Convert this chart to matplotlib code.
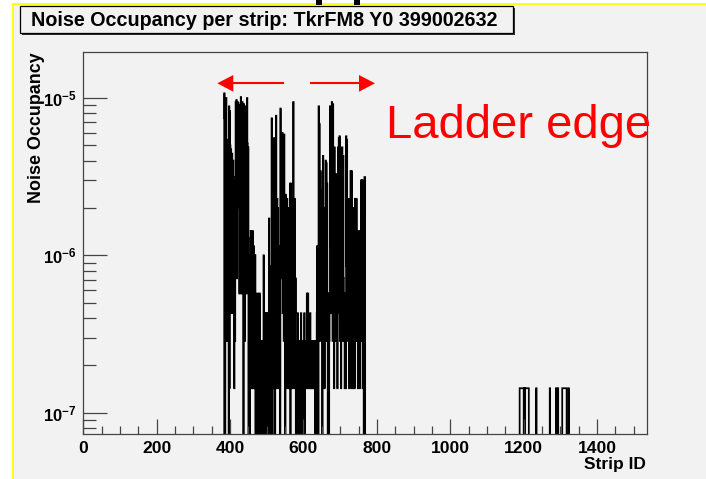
import numpy as np
import matplotlib
matplotlib.use("Agg")
import matplotlib.pyplot as plt
from matplotlib.patches import Rectangle, Polygon
from matplotlib.lines import Line2D
from matplotlib.ticker import MultipleLocator, LogLocator, NullFormatter

W, H = 706, 479
BG = "#f2f2f2"
RED = "#ff0000"

plt.rcParams["font.family"] = ["Liberation Sans", "DejaVu Sans"]
plt.rcParams["mathtext.fontset"] = "custom"
plt.rcParams["mathtext.rm"] = "Liberation Sans"
plt.rcParams["mathtext.bf"] = "Liberation Sans:bold"

# ---- data ----
N_STRIPS = 1536
HIT = 1 / 7.0e6          # occupancy of one noise hit
FIRST_STRIP = 384
# noise hits per strip, strips 384..767
hits_main = [
    75, 52, 0, 49, 45, 70, 2, 38, 24, 12, 2, 9,
    0, 62, 1, 58, 35, 3, 33, 30, 6, 31, 3, 24,
    28, 22, 3, 1, 21, 2, 18, 66, 40, 68, 5, 64,
    66, 30, 65, 48, 14, 4, 63, 40, 12, 71, 24, 4,
    44, 66, 8, 45, 0, 64, 20, 43, 2, 59, 15, 62,
    4, 55, 70, 36, 5, 34, 0, 2, 7, 0, 3, 9,
    10, 2, 9, 1, 4, 10, 3, 1, 8, 2, 7, 1,
    7, 0, 4, 1, 0, 3, 2, 0, 4, 1, 2, 0,
    4, 1, 0, 2, 0, 1, 2, 0, 1, 2, 0, 7,
    0, 1, 2, 0, 3, 1, 3, 0, 2, 3, 0, 1,
    2, 0, 12, 3, 1, 6, 0, 5, 2, 52, 4, 0,
    3, 8, 38, 1, 39, 6, 0, 36, 2, 54, 10, 1,
    16, 4, 14, 2, 8, 1, 7, 3, 0, 60, 5, 30,
    20, 6, 42, 3, 40, 8, 2, 41, 4, 12, 0, 17,
    5, 14, 2, 16, 1, 14, 7, 3, 1, 7, 2, 20,
    0, 20, 4, 16, 1, 15, 3, 2, 66, 6, 1, 16,
    16, 3, 5, 0, 2, 1, 0, 2, 3, 0, 2, 1,
    0, 2, 1, 0, 2, 3, 0, 1, 2, 0, 2, 1,
    0, 2, 3, 0, 2, 1, 2, 2, 1, 4, 2, 2,
    4, 1, 2, 2, 1, 2, 3, 2, 1, 2, 2, 1,
    2, 2, 1, 2, 2, 1, 1, 0, 2, 1, 2, 0,
    3, 8, 2, 6, 0, 62, 10, 48, 20, 2, 24, 5,
    18, 3, 12, 0, 8, 30, 2, 14, 10, 1, 6, 3,
    28, 5, 27, 2, 20, 4, 0, 3, 4, 0, 2, 4,
    62, 8, 40, 3, 12, 66, 30, 2, 64, 5, 3, 1,
    34, 15, 2, 13, 3, 23, 4, 18, 1, 10, 34, 3,
    39, 6, 40, 2, 8, 4, 1, 4, 2, 34, 3, 12,
    30, 5, 2, 4, 1, 3, 2, 1, 40, 6, 38, 2,
    9, 3, 16, 6, 1, 14, 2, 6, 24, 3, 1, 24,
    3, 2, 1, 14, 7, 2, 5, 1, 16, 3, 16, 2,
    16, 2, 10, 3, 1, 3, 2, 4, 10, 1, 4, 2,
    3, 21, 2, 8, 21, 1, 12, 4, 0, 6, 22, 22,
]
# strips with a single hit on the far side
single_hit_strips = [
    1189, 1190, 1191, 1192, 1193, 1194, 1195, 1196, 1197, 1198, 1199,
    1201, 1202, 1204, 1205, 1206, 1207, 1208, 1209, 1210, 1211, 1212, 1213,
    1234, 1271, 1288, 1293,
    1305, 1306, 1307, 1308, 1309, 1310, 1311, 1312, 1313, 1314, 1315, 1316,
    1322,
]
xtick_values = [0, 200, 400, 600, 800, 1000, 1200, 1400]
ytick_values = [1e-7, 1e-6, 1e-5]
ytick_labels = [r"$\mathbf{10^{-7}}$", r"$\mathbf{10^{-6}}$", r"$\mathbf{10^{-5}}$"]

counts = np.zeros(N_STRIPS)
counts[FIRST_STRIP:FIRST_STRIP + len(hits_main)] = hits_main
counts[single_hit_strips] = 1
occ = counts * HIT
FLOOR = 1e-9              # empty strips drop below the frame, like ROOT
occ[occ == 0] = FLOOR


def fx(x):
    return x / W


def fy(y):
    return 1 - y / H


fig = plt.figure(figsize=(W / 100, H / 100), dpi=100, facecolor="white")

# slide background with yellow border
fig.add_artist(Rectangle((fx(13), fy(H + 5)), 1, (H + 1) / H, transform=fig.transFigure,
                         facecolor=BG, edgecolor="#ffff00", lw=1.3, zorder=-5))
# bits of the slide heading cut off at the top
for x0 in (316, 354):
    fig.add_artist(Rectangle((fx(x0), fy(5)), 6 / W, 6 / H, transform=fig.transFigure,
                             facecolor="black", edgecolor="none", zorder=-4))

ax = fig.add_axes([fx(83.3), fy(434), (647 - 83.3) / W, (434 - 51.7) / H])
ax.set_facecolor(BG)
ax.stairs(occ, np.arange(N_STRIPS + 1), baseline=FLOOR, color="black", lw=1.25)

ax.set_xlim(0, N_STRIPS)
ax.set_yscale("log")
ax.set_ylim(7.31e-8, 1.97e-5)

ax.set_xticks(xtick_values, [str(v) for v in xtick_values], fontweight="bold", fontsize=12.6)
ax.xaxis.set_minor_locator(MultipleLocator(50))
ax.set_yticks(ytick_values, ytick_labels, fontsize=12)
ax.yaxis.set_minor_locator(LogLocator(subs=range(2, 10)))
ax.yaxis.set_minor_formatter(NullFormatter())

ax.tick_params(axis="x", which="major", direction="in", length=11, width=0.9,
               color="#444444", pad=5, top=False)
ax.tick_params(axis="x", which="minor", direction="in", length=6, width=0.9,
               color="#444444", top=False)
ax.tick_params(axis="y", which="major", direction="in", length=17, width=0.9,
               color="#444444", pad=5, right=False)
ax.tick_params(axis="y", which="minor", direction="in", length=9, width=0.9,
               color="#444444", right=False)
for s in ax.spines.values():
    s.set_color("#444444")
    s.set_linewidth(0.9)

# axis titles, ROOT style
fig.text(fx(37), fy(52), "Noise Occupancy", rotation=90, ha="center", va="top",
         fontsize=12.9, fontweight="bold")
fig.text(fx(646), fy(465), "Strip ID", ha="right", va="center",
         fontsize=12.5, fontweight="bold")

# title box
fig.add_artist(Rectangle((fx(22), fy(35)), (513 - 20) / W, 27 / H, transform=fig.transFigure,
                         facecolor="#333333", edgecolor="none", zorder=4))
fig.add_artist(Rectangle((fx(20), fy(33)), (513 - 20) / W, 27 / H, transform=fig.transFigure,
                         facecolor=BG, edgecolor="black", lw=0.9, zorder=5))
fig.text(fx(31), fy(20), "Noise Occupancy per strip: TkrFM8 Y0 399002632",
         ha="left", va="center", fontsize=14.2, fontweight="bold", zorder=6)

# red annotation arrows
Y_ARR = 83.3
fig.add_artist(Line2D([fx(233), fx(282.7)], [fy(Y_ARR), fy(Y_ARR)], color=RED, lw=1.5,
                      transform=fig.transFigure))
fig.add_artist(Polygon([(fx(217.3), fy(Y_ARR)), (fx(233.3), fy(75)), (fx(233.3), fy(91.7))],
                       closed=True, transform=fig.transFigure, color=RED, lw=0))
fig.add_artist(Line2D([fx(311), fx(360)], [fy(Y_ARR), fy(Y_ARR)], color=RED, lw=1.5,
                      transform=fig.transFigure))
fig.add_artist(Polygon([(fx(375), fy(Y_ARR)), (fx(359), fy(75)), (fx(359), fy(91.7))],
                       closed=True, transform=fig.transFigure, color=RED, lw=0))

fig.text(fx(386), fy(138.3), "Ladder edge", ha="left", va="baseline",
         fontsize=34, color=RED, zorder=6)

fig.savefig("out.png", dpi=100, facecolor="white")
